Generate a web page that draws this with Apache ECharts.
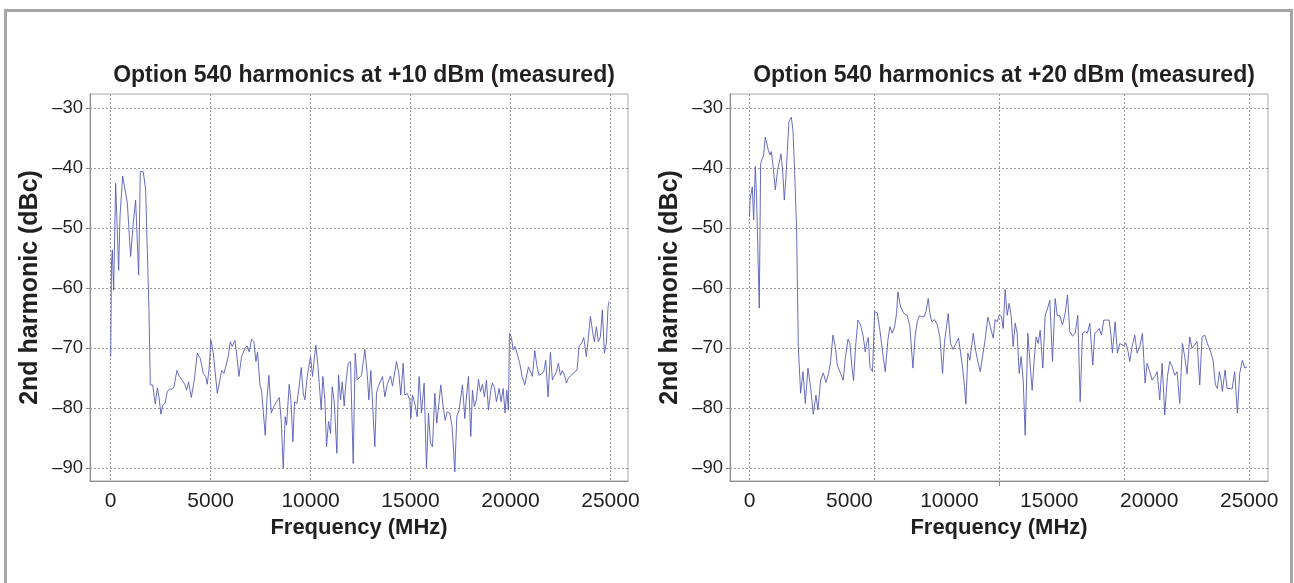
<!DOCTYPE html>
<html>
<head>
<meta charset="utf-8">
<script src="https://cdn.jsdelivr.net/npm/echarts@6/dist/echarts.min.js"></script>
<style>
  html, body { margin: 0; padding: 0; background: #fff; }
  #chart { width: 1294px; height: 583px; position: absolute; left: 0; top: 0; }
  #frame { position: absolute; left: 4px; top: 9px; width: 1283px; height: 620px;
           border: 3px solid #a6a6a6; pointer-events: none; }
</style>
</head>
<body>
<div id="chart"></div>
<div id="frame"></div>
<script>
// ---------- data ----------
const titles = ['Option 540 harmonics at +10 dBm (measured)', 'Option 540 harmonics at +20 dBm (measured)'];
const xAxisName = 'Frequency (MHz)';
const yAxisName = '2nd harmonic (dBc)';
const yTickValues = [-90, -80, -70, -60, -50, -40, -30];
const xLabelValues = [0, 5000, 10000, 15000, 20000, 25000];
const leftGridValues = [0, 5000, 10000, 15000, 20000, 25000];
const rightGridValues = [0, 6250, 12500, 18750, 25000];
const rightExtraTick = [12500];

const leftFreq = [0, 40, 82, 148, 248, 398, 465, 530, 598, 715, 832, 998, 1132, 1248, 1398, 1482, 1632, 1748, 1915, 1982,
  2098, 2232, 2332, 2415, 2515, 2598, 2715, 2832, 2932, 3082, 3165, 3315, 3432, 3598, 3715, 3798, 3898, 4032, 4182, 4332,
  4482, 4632, 4748, 4832, 4932, 5015, 5132, 5215, 5332, 5465, 5548, 5665, 5748, 5882, 5982, 6082, 6215, 6298, 6415, 6548,
  6715, 6832, 6932, 7048, 7165, 7265, 7348, 7465, 7548, 7632, 7732, 7815, 7915, 8032, 8165, 8298, 8432, 8532, 8632, 8732,
  8798, 8932, 9015, 9115, 9198, 9315, 9415, 9532, 9632, 9715, 9832, 9898, 9998, 10098, 10198, 10265, 10365, 10432, 10532, 10615,
  10715, 10798, 10898, 10998, 11082, 11182, 11315, 11398, 11498, 11582, 11682, 11765, 11882, 11998, 12132, 12232, 12332, 12432, 12548, 12715,
  12832, 12915, 13015, 13098, 13215, 13298, 13382, 13598, 13715, 13832, 13998, 14098, 14298, 14415, 14515, 14632, 14715, 14832, 14965, 15015,
  15098, 15215, 15332, 15432, 15548, 15682, 15798, 15898, 15998, 16098, 16215, 16315, 16415, 16515, 16632, 16732, 16832, 16965, 17082, 17215,
  17315, 17432, 17515, 17598, 17715, 17798, 17898, 18015, 18098, 18198, 18298, 18398, 18498, 18598, 18698, 18798, 18898, 19015, 19098, 19198,
  19298, 19432, 19532, 19632, 19732, 19815, 19898, 19948, 20048, 20132, 20232, 20332, 20465, 20582, 20715, 20798, 20898, 20998, 21098, 21215,
  21332, 21432, 21548, 21665, 21765, 21882, 21998, 22098, 22198, 22298, 22398, 22498, 22598, 22698, 22798, 22898, 22998, 23132, 23232, 23332,
  23432, 23548, 23665, 23798, 23898, 23998, 24098, 24198, 24298, 24398, 24498, 24598, 24698, 24798, 24882, 24932];
const leftHarm = [-71.4, -55.8, -53.6, -60.3, -42.5, -57.0, -48.1, -48.3, -41.3, -43.5, -45.8, -54.7, -49.1, -45.3, -57.8, -40.5, -40.6, -43.6, -63.6, -76.1,
  -76.1, -79.3, -76.6, -78.1, -81.0, -79.5, -79.2, -77.2, -76.8, -76.8, -76.4, -73.7, -74.7, -75.4, -76.1, -77.0, -75.6, -78.2, -75.3, -70.8,
  -71.7, -74.2, -74.7, -76.0, -73.1, -68.6, -70.8, -73.6, -77.5, -75.3, -73.7, -74.2, -73.9, -71.4, -68.9, -69.7, -68.7, -70.8, -74.7, -71.4,
  -70.0, -69.6, -70.6, -68.5, -68.9, -72.2, -70.6, -76.1, -77.1, -77.0, -84.5, -78.6, -74.5, -80.8, -79.7, -78.9, -78.2, -82.0, -90.0, -81.4,
  -82.8, -76.0, -78.6, -85.6, -78.9, -79.2, -76.7, -73.2, -77.5, -78.6, -74.7, -74.6, -71.4, -74.7, -71.3, -69.5, -72.8, -72.5, -80.3, -74.7,
  -78.6, -86.4, -82.2, -84.2, -76.4, -78.9, -87.5, -74.5, -78.6, -75.6, -79.6, -75.8, -72.5, -72.2, -89.2, -70.8, -75.3, -75.3, -74.5, -70.2,
  -74.2, -78.6, -73.7, -73.9, -86.4, -77.5, -76.4, -74.7, -78.1, -76.1, -74.6, -76.3, -72.2, -74.2, -77.8, -72.5, -77.8, -77.5, -78.6, -81.7,
  -77.8, -79.2, -81.4, -74.7, -80.8, -75.8, -90.0, -80.8, -85.8, -86.4, -77.5, -82.5, -82.8, -76.1, -79.7, -82.0, -80.6, -80.8, -83.1, -90.6,
  -81.4, -80.3, -80.3, -76.1, -81.7, -78.1, -74.7, -84.7, -77.0, -79.7, -78.6, -75.2, -77.2, -76.0, -78.1, -75.3, -80.3, -77.0, -75.8, -76.5,
  -78.9, -76.7, -78.9, -76.7, -80.8, -77.0, -80.3, -67.5, -68.2, -70.3, -69.7, -70.0, -72.5, -74.7, -76.1, -76.1, -73.1, -73.0, -74.7, -70.4,
  -73.1, -74.5, -74.3, -73.9, -72.0, -78.1, -70.7, -75.3, -74.6, -73.9, -72.5, -74.5, -73.7, -74.5, -75.8, -75.0, -74.6, -74.2, -74.3, -73.6,
  -69.7, -69.2, -68.2, -71.4, -68.2, -64.7, -67.0, -68.9, -66.4, -68.9, -68.1, -63.6, -70.8, -69.2, -63.1, -62.2];

const rightFreq = [0, 25, 142, 208, 292, 358, 490, 558, 708, 792, 942, 1025, 1092, 1192, 1292, 1408, 1475, 1575, 1658, 1742,
  1825, 1892, 1975, 2092, 2175, 2258, 2358, 2442, 2558, 2675, 2792, 2925, 3058, 3192, 3325, 3425, 3558, 3692, 3825, 3958,
  4058, 4175, 4292, 4392, 4492, 4592, 4692, 4792, 4925, 5025, 5125, 5208, 5308, 5425, 5558, 5692, 5792, 5858, 5942, 6025,
  6158, 6258, 6392, 6525, 6658, 6792, 6925, 7025, 7142, 7258, 7358, 7425, 7558, 7725, 7892, 8025, 8175, 8292, 8392, 8492,
  8608, 8725, 8825, 8942, 9025, 9125, 9258, 9392, 9525, 9658, 9758, 9858, 9942, 10058, 10192, 10325, 10458, 10558, 10658, 10758,
  10825, 10925, 11025, 11192, 11308, 11425, 11542, 11658, 11775, 11925, 12058, 12192, 12292, 12392, 12492, 12608, 12692, 12792, 12892, 12992,
  13092, 13192, 13292, 13392, 13492, 13592, 13692, 13792, 13925, 14025, 14142, 14242, 14342, 14442, 14542, 14675, 14792, 14892, 15025, 15158,
  15292, 15392, 15525, 15658, 15792, 15908, 16025, 16158, 16292, 16425, 16542, 16658, 16792, 16908, 17025, 17175, 17275, 17392, 17492, 17608,
  17725, 17858, 17992, 18092, 18158, 18292, 18408, 18525, 18625, 18725, 18825, 18925, 19025, 19142, 19275, 19392, 19525, 19658, 19792, 19892,
  20025, 20142, 20275, 20392, 20525, 20642, 20775, 20908, 21025, 21158, 21275, 21392, 21525, 21658, 21775, 21892, 22025, 22142, 22258, 22392,
  22525, 22642, 22775, 22908, 23042, 23192, 23308, 23408, 23508, 23592, 23658, 23792, 23892, 24025, 24142, 24275, 24408, 24525, 24658, 24775,
  24892];
const rightHarm = [-48.1, -45.3, -43.1, -48.6, -39.7, -45.3, -63.3, -39.2, -37.8, -34.8, -37.0, -37.8, -37.2, -40.0, -43.6, -40.3, -40.2, -37.6, -40.3, -45.3,
  -41.4, -37.2, -32.2, -31.5, -33.6, -40.3, -50.3, -69.7, -77.5, -73.9, -79.2, -73.3, -76.5, -81.0, -77.8, -80.3, -75.3, -74.1, -75.7, -74.2,
  -72.2, -67.8, -69.7, -72.8, -73.1, -74.5, -75.3, -71.7, -68.5, -69.2, -73.1, -75.4, -69.7, -65.3, -66.1, -68.1, -70.6, -69.2, -68.2, -73.1,
  -73.9, -63.9, -64.1, -67.0, -70.6, -73.9, -68.6, -66.4, -67.5, -66.4, -64.2, -60.6, -63.1, -64.2, -64.5, -66.4, -73.3, -67.8, -65.6, -64.6,
  -64.7, -64.8, -63.9, -61.7, -64.2, -65.6, -65.2, -66.1, -68.1, -74.2, -68.9, -66.4, -64.2, -69.2, -70.2, -69.2, -68.3, -68.3, -73.1, -76.4,
  -79.3, -70.8, -72.0, -67.5, -70.3, -72.2, -73.9, -71.4, -68.9, -64.8, -66.5, -68.3, -65.2, -65.6, -64.5, -64.7, -66.7, -60.2, -64.5, -62.5,
  -64.7, -69.7, -65.8, -67.5, -74.2, -71.4, -75.3, -84.5, -67.5, -72.0, -77.0, -72.0, -68.1, -69.2, -67.0, -73.3, -64.5, -63.6, -62.0, -72.2,
  -61.7, -64.5, -64.6, -66.1, -64.2, -61.1, -67.2, -68.0, -67.5, -64.5, -78.9, -67.5, -67.2, -67.5, -65.8, -72.8, -67.5, -67.2, -66.7, -67.8,
  -65.3, -65.3, -65.3, -68.1, -70.8, -65.6, -70.8, -69.2, -69.1, -69.6, -69.1, -70.3, -72.2, -69.7, -67.8, -70.8, -69.7, -67.5, -75.8, -72.5,
  -73.9, -75.3, -74.7, -73.9, -78.6, -72.5, -81.1, -74.7, -72.2, -73.1, -74.5, -73.9, -79.2, -69.2, -71.4, -74.3, -68.1, -70.0, -69.5, -68.9,
  -76.1, -68.1, -67.8, -69.2, -70.3, -72.0, -76.1, -76.7, -73.9, -75.3, -77.2, -73.6, -76.7, -76.7, -76.8, -73.9, -80.8, -74.2, -72.0, -73.3,
  -73.1];

// ---------- styling ----------
const TXT = '#231f20';
const REG = '"Liberation Sans", Arial, sans-serif';
const LINE = '#575bb6';
const GRIDC = '#9a9a9a';
const AXC = '#8a8a8a';

const yMin = -92.12, yMax = -27.62;
const plotTop = 94, plotH = 387, plotW = 538;
const lefts = [90, 730];
const xRanges = [[-1035, 25880], [-975, 25940]];

function pairs(xs, ys) { return xs.map((x, i) => [x, ys[i]]); }

const option = {
  animation: false,
  backgroundColor: '#fff',
  title: titles.map((t, i) => ({
    text: t,
    left: lefts[i] + plotW / 2,
    top: 59,
    textAlign: 'center',
    textStyle: { fontFamily: REG, fontWeight: 'bold', fontSize: 23, color: TXT }
  })),
  grid: lefts.map(l => ({
    left: l, top: plotTop, width: plotW, height: plotH,
    show: true, borderColor: '#a8a8a8', borderWidth: 1, backgroundColor: 'transparent',
    containLabel: false
  })),
  xAxis: [0, 1].map(i => ({
    type: 'value', gridIndex: i, min: xRanges[i][0], max: xRanges[i][1],
    position: 'bottom',
    name: xAxisName, nameLocation: 'middle', nameGap: 27,
    nameTextStyle: { fontFamily: REG, fontWeight: 'bold', fontSize: 22, color: TXT },
    axisLine: { show: true, onZero: false, lineStyle: { color: AXC, width: 1 } },
    axisTick: { show: false, customValues: i === 0 ? leftGridValues : rightGridValues },
    axisLabel: { customValues: xLabelValues, margin: 10, fontFamily: REG, fontSize: 21, color: TXT,
                 formatter: v => String(v) },
    splitLine: { show: true, lineStyle: { color: GRIDC, type: [2, 2], width: 1 } }
  })).concat([{
    type: 'value', gridIndex: 1, min: xRanges[1][0], max: xRanges[1][1], position: 'bottom',
    axisLine: { show: false, onZero: false },
    axisTick: { show: true, customValues: rightExtraTick, length: 5, lineStyle: { color: AXC } },
    axisLabel: { show: false },
    splitLine: { show: false }
  }]),
  yAxis: [0, 1].map(i => ({
    type: 'value', gridIndex: i, min: yMin, max: yMax,
    name: yAxisName, nameLocation: 'middle', nameGap: 47,
    nameTextStyle: { fontFamily: REG, fontWeight: 'bold', fontSize: 25, color: TXT },
    axisLine: { show: true, onZero: false, lineStyle: { color: AXC, width: 1 } },
    axisTick: { show: true, length: 4, customValues: yTickValues, lineStyle: { color: AXC } },
    axisLabel: { customValues: yTickValues, margin: 7, fontFamily: REG, fontSize: 18.5, color: TXT,
                 formatter: v => (v < 0 ? '\u2013' + Math.abs(v) : String(v)) },
    splitLine: { show: true, lineStyle: { color: GRIDC, type: [2, 2], width: 1 } }
  })),
  series: [
    { type: 'line', xAxisIndex: 0, yAxisIndex: 0, data: pairs(leftFreq, leftHarm),
      showSymbol: false, symbol: 'none', lineStyle: { color: LINE, width: 0.9 }, silent: true },
    { type: 'line', xAxisIndex: 1, yAxisIndex: 1, data: pairs(rightFreq, rightHarm),
      showSymbol: false, symbol: 'none', lineStyle: { color: LINE, width: 0.9 }, silent: true }
  ]
};

const chart = echarts.init(document.getElementById('chart'), null, { renderer: 'canvas' });
chart.setOption(option);
</script>
</body>
</html>
